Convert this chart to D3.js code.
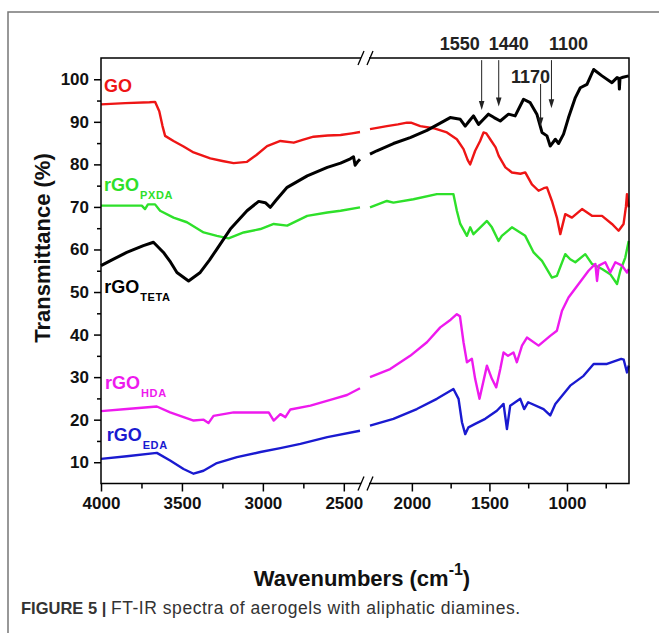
<!DOCTYPE html>
<html>
<head>
<meta charset="utf-8">
<script src="https://cdn.jsdelivr.net/npm/d3@7"></script>
<style>
  body { margin: 0; background: #fff; }
  text { font-family: "Liberation Sans", Arial, sans-serif; }
</style>
</head>
<body>
<script>
// FT-IR spectra, [wavenumber, transmittance %]
const goData = [[4000,94.1],[3850,94.4],[3700,94.6],[3666,94.7],[3640,92.5],[3620,89],[3604,86.7],[3552,85.5],[3490,84.2],[3428,82.8],[3325,81.4],[3250,80.8],[3181,80.3],[3098,80.6],[3040,82.2],[2974,84.3],[2892,85.5],[2809,85.1],[2750,85.8],[2687,86.5],[2600,86.8],[2520,86.9],[2450,87.3],[2400,87.6],
  [2270,88.3],[2161,89.0],[2090,89.4],[2032,89.8],[2006,89.8],[1946,89.0],[1861,88.5],[1774,87.5],[1710,85.9],[1667,83.6],[1640,81],[1624,80.0],[1592,83.2],[1560,85.5],[1538,87.5],[1520,87.3],[1495,85.9],[1460,84],[1440,82],[1397,79.3],[1355,78.1],[1300,77.8],[1269,78.1],[1226,75.3],[1183,73.8],[1150,74.4],[1129,74.6],[1097,71.4],[1065,67.5],[1043,63.6],[1011,68.3],[968,67.5],[903,69.5],[839,67.9],[774,67.9],[710,66.0],[667,64.4],[635,66.0],[620,70],[613,73.0],[602,69.9]];

const tetaData = [[4000,56.2],[3920,57.8],[3841,59.3],[3738,60.9],[3676,61.7],[3614,59.3],[3570,57],[3531,54.6],[3459,52.6],[3387,54.6],[3330,57.5],[3284,60.1],[3201,64.8],[3098,69.1],[3026,71.3],[2985,71],[2954,69.9],[2920,71.5],[2850,74.6],[2726,77.3],[2602,79.3],[2520,80.3],[2460,81.3],[2440,81.8],[2430,79.8],[2415,80.6],[2400,81.2],
  [2270,82.4],[2226,83.2],[2119,84.9],[2011,86.3],[1903,88.0],[1817,89.7],[1753,91.0],[1688,90.6],[1656,89.0],[1630,90.2],[1603,91.4],[1570,89.4],[1538,90.6],[1506,91.8],[1470,91.0],[1430,90.2],[1377,91.8],[1334,91.4],[1280,95.3],[1237,94.5],[1194,91.8],[1161,87.5],[1129,86.7],[1108,84.3],[1075,85.9],[1054,84.9],[1022,87.1],[990,91.0],[946,95.7],[914,98.0],[871,98.8],[828,102.3],[774,100.8],[710,99.2],[677,100.4],[665,100.2],[662,97.7],[658,100.2],[645,100.4],[602,100.8]];

const pxdaData = [[4000,70.3],[3850,70.3],[3748,70.3],[3728,69.5],[3710,70.6],[3666,70.6],[3635,69.1],[3552,67.5],[3469,66.4],[3366,64.0],[3284,63.2],[3212,62.6],[3119,64.0],[3015,64.8],[2933,66.0],[2850,65.6],[2726,67.9],[2602,68.7],[2520,69.1],[2400,69.9],
  [2270,69.9],[2161,71.4],[2119,71.0],[1990,71.8],[1839,73.0],[1732,73.0],[1710,69.1],[1688,66.0],[1645,63.2],[1624,65.2],[1603,63.6],[1570,64.8],[1516,66.7],[1484,65.2],[1441,62.0],[1420,63.2],[1355,65.2],[1269,63.2],[1215,59.3],[1161,57.3],[1097,53.4],[1065,53.8],[1011,58.9],[979,57.7],[946,57.0],[882,58.9],[839,56.6],[774,55.4],[721,54.2],[677,51.9],[656,55.0],[624,58.1],[602,62.0]];

const hdaData = [[4000,22.0],[3841,22.5],[3655,23.1],[3573,21.7],[3428,19.8],[3366,20.0],[3336,19.2],[3305,20.9],[3181,21.7],[3015,21.7],[2964,21.7],[2933,19.8],[2892,21.3],[2861,20.6],[2830,22.4],[2706,23.3],[2562,24.9],[2480,25.8],[2400,27.4],
  [2270,30.0],[2140,31.9],[2011,35.0],[1903,38.2],[1817,41.7],[1750,43.5],[1710,44.8],[1690,44.3],[1667,38.2],[1645,33.5],[1613,34.3],[1592,29.6],[1564,24.9],[1516,32.7],[1484,29.6],[1456,27.6],[1430,31.9],[1409,35.8],[1380,35.0],[1345,35.8],[1323,33.5],[1290,37.4],[1258,39.3],[1183,37.4],[1108,39.7],[1065,40.9],[1032,45.6],[990,48.7],[925,51.9],[861,55.0],[817,56.6],[806,52.6],[795,56.2],[753,57.0],[721,54.6],[688,57.0],[645,56.2],[613,54.6],[602,55.4]];

const edaData = [[4000,10.8],[3841,11.4],[3655,12.2],[3573,10.4],[3490,8.4],[3428,7.3],[3367,8.0],[3284,9.8],[3160,11.2],[3015,12.4],[2892,13.3],[2768,14.3],[2602,15.9],[2400,17.4],
  [2270,18.6],[2119,20.2],[1968,22.5],[1839,24.9],[1732,27.2],[1699,24.9],[1677,19.4],[1656,16.6],[1635,18.2],[1592,19.0],[1527,20.2],[1452,22.1],[1409,23.7],[1387,17.8],[1366,23.3],[1301,24.9],[1276,22.5],[1250,24.1],[1151,22.5],[1108,21.0],[1075,23.7],[979,28.0],[893,30.3],[828,33.1],[742,33.1],[650,34.3],[634,34.1],[613,31.1],[602,32.7]];

const seriesNames = ['GO', 'rGO', 'rGO', 'rGO', 'rGO'];
const seriesSubs = ['', 'PXDA', 'TETA', 'HDA', 'EDA'];
const seriesData = [goData, pxdaData, tetaData, hdaData, edaData];
const seriesColors = ['#ee1515', '#2ee02a', '#000000', '#ee1aee', '#1a1ad0'];
const labelAnchors = [[3981, 97.0], [3981, 73.8], [3980, 49.8], [3975, 27.1], [3965, 15.1]];

// marked bands on the rGO-TETA curve
const peakLabels = ['1550', '1440', '1170', '1100'];
const peakWn = [1550, 1440, 1170, 1100];
const arrowFrom = [104.5, 104.5, 98.9, 104.5];
const arrowTo = [92.8, 93.6, 88.9, 93.2];

const leftMajor = [4000, 3500, 3000, 2500];
const leftMinor = [3750, 3250, 2750];
const rightMajor = [2000, 1500, 1000];
const rightMinor = [1750, 1250, 750];
const yMajor = [10, 20, 30, 40, 50, 60, 70, 80, 90, 100];
const yMinor = [15, 25, 35, 45, 55, 65, 75, 85, 95];

const width = 659, height = 633;
const margin = {top: 58, right: 30, bottom: 149.5, left: 101};
const plotRight = width - margin.right;
const plotBottom = height - margin.bottom;
const gapL = 361, gapR = 369;

const svg = d3.select('body').append('svg')
  .attr('width', width)
  .attr('height', height);

// outer figure frame (top + left only)
svg.append('path')
  .attr('d', `M8,${height} L8,12 L${width},12`)
  .attr('fill', 'none')
  .attr('stroke', '#777')
  .attr('stroke-width', 1.5);

// broken x axis: two linear pieces
const xL = d3.scaleLinear().domain([4000, 2400]).range([margin.left, 360]);
const xR = d3.scaleLinear().domain([2270, 600]).range([370, plotRight]);
const y = d3.scaleLinear().domain([5, 105]).range([plotBottom, margin.top]);
const x = wn => wn > 2335 ? xL(wn) : xR(wn);

const line = d3.line().x(d => x(d[0])).y(d => y(d[1]));

// spectra
seriesData.forEach((data, i) => {
  const parts = [data.filter(d => d[0] >= 2400), data.filter(d => d[0] <= 2270)];
  parts.forEach(p => {
    svg.append('path')
      .attr('d', line(p))
      .attr('fill', 'none')
      .attr('stroke', seriesColors[i])
      .attr('stroke-width', i === 2 ? 3 : 2.4)
      .attr('stroke-linejoin', 'round');
  });
});

// frame with gaps at the break
const frame = svg.append('g').attr('stroke', '#000').attr('stroke-width', 1.5).attr('fill', 'none');
frame.append('path')
  .attr('d', `M${gapL},${margin.top} H${margin.left} V${plotBottom} H${gapL}`);
frame.append('path')
  .attr('d', `M${gapR},${margin.top} H${plotRight} V${plotBottom} H${gapR}`);

// break marks "//"
[margin.top, plotBottom].forEach(yy => {
  [-4, 5].forEach(dx => {
    const cx = (gapL + gapR) / 2 + dx;
    frame.append('line')
      .attr('x1', cx - 3).attr('y1', yy + 7)
      .attr('x2', cx + 3).attr('y2', yy - 7)
      .attr('stroke-width', 1.3);
  });
});

const fontTick = '17px';

function xAxis(scale, major, minor) {
  const g = svg.append('g').attr('transform', `translate(0,${plotBottom})`);
  g.call(d3.axisBottom(scale).tickValues(major).tickSize(8).tickPadding(5).tickFormat(d3.format('d')));
  g.call(gg => gg.select('.domain').remove());
  g.selectAll('text').attr('font-size', fontTick).attr('font-weight', 'bold').attr('fill', '#111')
    .style('font-family', '"Liberation Sans", Arial, sans-serif');
  g.selectAll('line').attr('stroke-width', 1.5);
  const m = svg.append('g').attr('transform', `translate(0,${plotBottom})`);
  m.call(d3.axisBottom(scale).tickValues(minor).tickSize(5).tickFormat(''));
  m.call(gg => gg.select('.domain').remove());
  m.selectAll('line').attr('stroke-width', 1.5);
}
xAxis(xL, leftMajor, leftMinor);
xAxis(xR, rightMajor, rightMinor);

const gy = svg.append('g').attr('transform', `translate(${margin.left},0)`);
gy.call(d3.axisLeft(y).tickValues(yMajor).tickSize(7).tickPadding(5));
gy.call(g => g.select('.domain').remove());
gy.selectAll('text').attr('font-size', fontTick).attr('font-weight', 'bold').attr('fill', '#111')
  .style('font-family', '"Liberation Sans", Arial, sans-serif');
gy.selectAll('line').attr('stroke-width', 1.5);
const gym = svg.append('g').attr('transform', `translate(${margin.left},0)`);
gym.call(d3.axisLeft(y).tickValues(yMinor).tickSize(4).tickFormat(''));
gym.call(g => g.select('.domain').remove());
gym.selectAll('line').attr('stroke-width', 1.5);

// series labels with subscripts
seriesNames.forEach((name, i) => {
  const t = svg.append('text')
    .attr('x', x(labelAnchors[i][0]))
    .attr('y', y(labelAnchors[i][1]))
    .attr('fill', seriesColors[i])
    .attr('font-weight', 'bold')
    .attr('font-size', '18px');
  t.append('tspan').text(name);
  if (seriesSubs[i]) {
    t.append('tspan')
      .attr('dy', 8)
      .attr('dx', 1)
      .attr('font-size', '11px')
      .attr('letter-spacing', '0.6px')
      .text(seriesSubs[i]);
  }
});

// arrows to the marked bands
const labelDx = [-22, 10, -10, 17];
const labelY = [50, 50, 82.5, 50];
peakWn.forEach((wn, i) => {
  const px = x(wn), y0 = y(arrowFrom[i]), y1 = y(arrowTo[i]);
  svg.append('line')
    .attr('x1', px).attr('x2', px)
    .attr('y1', y0).attr('y2', y1 - 6)
    .attr('stroke', '#222').attr('stroke-width', 1);
  svg.append('path')
    .attr('d', `M${px - 2.8},${y1 - 9} L${px + 2.8},${y1 - 9} L${px},${y1} Z`)
    .attr('fill', '#222');
  svg.append('text')
    .attr('x', px + labelDx[i])
    .attr('y', labelY[i])
    .attr('text-anchor', 'middle')
    .attr('font-size', '18px')
    .attr('font-weight', 'bold')
    .attr('fill', '#222')
    .text(peakLabels[i]);
});

// axis titles
svg.append('text')
  .attr('transform', `translate(50,248) rotate(-90)`)
  .attr('text-anchor', 'middle')
  .attr('font-size', '22px')
  .attr('font-weight', 'bold')
  .attr('fill', '#111')
  .text('Transmittance (%)');

const xt = svg.append('text')
  .attr('x', 362)
  .attr('y', 586)
  .attr('text-anchor', 'middle')
  .attr('font-size', '22px')
  .attr('font-weight', 'bold')
  .attr('fill', '#111');
xt.append('tspan').text('Wavenumbers (cm');
xt.append('tspan').attr('dy', -11).attr('font-size', '16px').text('-1');
xt.append('tspan').attr('dy', 11).text(')');

// figure caption
const cap = svg.append('text')
  .attr('x', 21)
  .attr('y', 614)
  .attr('font-size', '17.5px')
  .attr('fill', '#333');
cap.append('tspan').attr('font-weight', 'bold').attr('font-size', '16.5px').text('FIGURE 5 | ');
cap.append('tspan').attr('letter-spacing', '0.55px').text('FT-IR spectra of aerogels with aliphatic diamines.');
</script>
</body>
</html>
